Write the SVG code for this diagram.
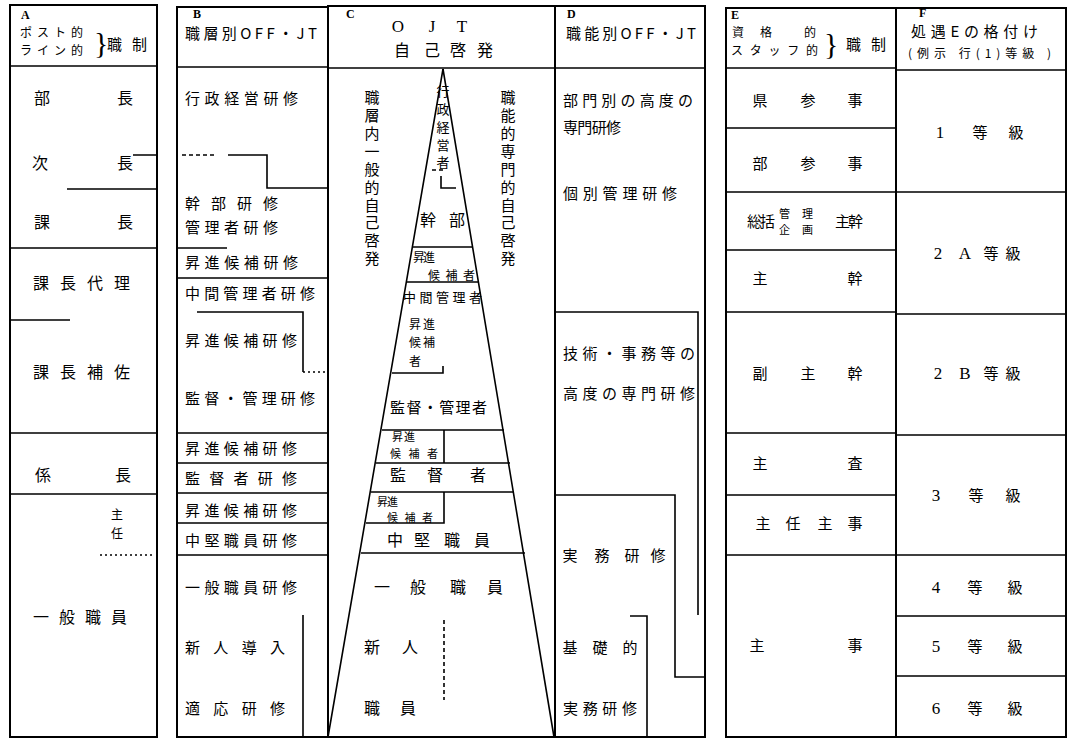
<svg xmlns="http://www.w3.org/2000/svg" width="1068" height="739" viewBox="0 0 1068 739">
<style>
.ln{stroke:#000;stroke-width:1.6;fill:none}
.bd{stroke:#000;stroke-width:2;fill:none}
.dash{stroke-dasharray:4 3}
.dot{stroke-dasharray:2 3}
text{font-family:"Noto Sans CJK JP","Noto Sans",sans-serif;font-size:15px;fill:#000}
.m{text-anchor:middle}
.v{writing-mode:vertical-rl}
.a{font-size:16px}
.sm{font-size:13px}
.hd{font-size:12px}
.xs{font-size:11px}
.lt{font-family:"Liberation Serif",serif;font-size:12px;font-weight:bold}
.ser{font-family:"Liberation Serif",serif;font-size:17px}
.br{font-family:"Liberation Serif",serif;font-size:30px}
</style>
<rect width="1068" height="739" fill="#fff"/>

<g id="colA">
<rect class="bd" x="10" y="5" width="147" height="732"/>
<line class="ln" x1="10" y1="66" x2="157" y2="66"/>
<text class="lt" x="21" y="19">A</text>
<text class="hd" x="20" y="37" textLength="63" lengthAdjust="spacing">ポスト的</text>
<text class="hd" x="20" y="55" textLength="63" lengthAdjust="spacing">ライン的</text>
<text class="br" x="94" y="53">}</text>
<text x="107" y="50" textLength="40" lengthAdjust="spacing">職制</text>
<text class="a m" x="42" y="104">部</text><text class="a m" x="125" y="104">長</text>
<text class="a m" x="40" y="169">次</text><text class="a m" x="125" y="169">長</text>
<text class="a m" x="42" y="228">課</text><text class="a m" x="125" y="228">長</text>
<text class="a" x="33" y="289" textLength="97" lengthAdjust="spacing">課長代理</text>
<text class="a" x="33" y="378" textLength="97" lengthAdjust="spacing">課長補佐</text>
<text class="a m" x="43" y="481">係</text><text class="a m" x="123" y="481">長</text>
<text class="hd v" x="117" y="508" textLength="31" lengthAdjust="spacing">主任</text>
<text class="a" x="33" y="623" textLength="94" lengthAdjust="spacing">一般職員</text>
</g>

<g id="colB">
<rect class="bd" x="177" y="7" width="151" height="730"/>
<line class="ln" x1="177" y1="67" x2="328" y2="67"/>
<text class="lt" x="193" y="18">B</text>
<text x="185" y="39" textLength="132" lengthAdjust="spacing">職層別OFF・JT</text>
<text x="185" y="103.5" textLength="113" lengthAdjust="spacing">行政経営研修</text>
<text x="185" y="208.5" textLength="93" lengthAdjust="spacing">幹部研修</text>
<text x="185" y="232.5" textLength="93" lengthAdjust="spacing">管理者研修</text>
<text x="185" y="267.5" textLength="113" lengthAdjust="spacing">昇進候補研修</text>
<text x="185" y="298.5" textLength="130" lengthAdjust="spacing">中間管理者研修</text>
<text x="185" y="345.5" textLength="112" lengthAdjust="spacing">昇進候補研修</text>
<text x="185" y="403.5" textLength="130" lengthAdjust="spacing">監督・管理研修</text>
<text x="185" y="453.5" textLength="112" lengthAdjust="spacing">昇進候補研修</text>
<text x="185" y="483.5" textLength="112" lengthAdjust="spacing">監督者研修</text>
<text x="185" y="515.5" textLength="112" lengthAdjust="spacing">昇進候補研修</text>
<text x="185" y="545.5" textLength="112" lengthAdjust="spacing">中堅職員研修</text>
<text x="185" y="592.5" textLength="112" lengthAdjust="spacing">一般職員研修</text>
<text x="185" y="652.5" textLength="100" lengthAdjust="spacing">新人導入</text>
<text x="185" y="713.5" textLength="100" lengthAdjust="spacing">適応研修</text>
</g>

<g id="colC">
<rect class="bd" x="328" y="6" width="227" height="731"/>
<line class="ln" x1="328" y1="68" x2="555" y2="68"/>
<text class="lt" x="346" y="18">C</text>
<text class="ser m" x="398" y="32">O</text><text class="ser m" x="432" y="32">J</text><text class="ser m" x="462" y="32">T</text>
<text class="a m" x="402" y="56">自</text><text class="a m" x="432" y="56">己</text><text class="a m" x="458" y="56">啓</text><text class="a m" x="485" y="56">発</text>
<text class="v" x="372" y="90" textLength="176" lengthAdjust="spacing">職層内一般的自己啓発</text>
<text class="v" x="508" y="90" textLength="176" lengthAdjust="spacing">職能的専門的自己啓発</text>
<text class="sm v" x="443" y="85" textLength="84" lengthAdjust="spacing">行政経営者</text>
<text class="a m" x="428" y="226">幹</text><text class="a m" x="457" y="226">部</text>
<text class="hd" x="413" y="262" textLength="22" lengthAdjust="spacing">昇進</text>
<text class="hd" x="428" y="280" textLength="47" lengthAdjust="spacing">候補者</text>
<text class="sm" x="403" y="302" textLength="79" lengthAdjust="spacing">中間管理者</text>
<text class="hd" x="409" y="329" textLength="26" lengthAdjust="spacing">昇進</text>
<text class="hd" x="409" y="347" textLength="26" lengthAdjust="spacing">候補</text>
<text class="hd" x="409" y="366">者</text>
<text x="390" y="412.5" textLength="97" lengthAdjust="spacing">監督・管理者</text>
<text class="xs" x="392" y="441" textLength="23" lengthAdjust="spacing">昇進</text>
<text class="xs" x="390" y="458" textLength="48" lengthAdjust="spacing">候補者</text>
<text class="a m" x="398" y="481">監</text><text class="a m" x="435" y="481">督</text><text class="a m" x="478" y="481">者</text>
<text class="xs" x="377" y="506" textLength="21" lengthAdjust="spacing">昇進</text>
<text class="xs" x="387" y="522" textLength="46" lengthAdjust="spacing">候補者</text>
<text class="a m" x="395" y="546">中</text><text class="a m" x="422" y="546">堅</text><text class="a m" x="452" y="546">職</text><text class="a m" x="482" y="546">員</text>
<text class="a m" x="382" y="593">一</text><text class="a m" x="418" y="593">般</text><text class="a m" x="458" y="593">職</text><text class="a m" x="495" y="593">員</text>
<text class="a m" x="372" y="653">新</text><text class="a m" x="410" y="653">人</text>
<text class="a m" x="372" y="714">職</text><text class="a m" x="408" y="714">員</text>
</g>

<g id="colD">
<rect class="bd" x="555" y="6" width="150" height="731"/>
<line class="ln" x1="555" y1="68" x2="705" y2="68"/>
<text class="lt" x="567" y="18">D</text>
<text x="566" y="39" textLength="130" lengthAdjust="spacing">職能別OFF・JT</text>
<text x="563" y="105.5" textLength="130" lengthAdjust="spacing">部門別の高度の</text>
<text x="563" y="132.5" textLength="58" lengthAdjust="spacing">専門研修</text>
<text x="563" y="198.5" textLength="114" lengthAdjust="spacing">個別管理研修</text>
<text x="563" y="358.5" textLength="132" lengthAdjust="spacing">技術・事務等の</text>
<text x="563" y="398.5" textLength="132" lengthAdjust="spacing">高度の専門研修</text>
<text class="m" x="570" y="560.5">実</text><text class="m" x="602" y="560.5">務</text><text class="m" x="632" y="560.5">研</text><text class="m" x="658" y="560.5">修</text>
<text class="m" x="570" y="652.5">基</text><text class="m" x="600" y="652.5">礎</text><text class="m" x="630" y="652.5">的</text>
<text x="563" y="713.5" textLength="74" lengthAdjust="spacing">実務研修</text>
</g>

<g id="colE">
<rect class="bd" x="726" y="8" width="170" height="729"/>
<line class="ln" x1="726" y1="68" x2="896" y2="68"/>
<text class="lt" x="731" y="19">E</text>
<text class="hd m" x="738" y="37">資</text><text class="hd m" x="766" y="37">格</text><text class="hd m" x="810" y="37">的</text>
<text class="hd" x="731" y="55" textLength="87" lengthAdjust="spacing">スタッフ的</text>
<text class="br" x="824" y="54">}</text>
<text x="846" y="50" textLength="40" lengthAdjust="spacing">職制</text>
<text class="m" x="760" y="105.5">県</text><text class="m" x="808" y="105.5">参</text><text class="m" x="855" y="105.5">事</text>
<text class="m" x="760" y="168.5">部</text><text class="m" x="808" y="168.5">参</text><text class="m" x="855" y="168.5">事</text>
<text x="747" y="226.5" textLength="28" lengthAdjust="spacing">総括</text>
<text class="xs" x="779" y="218" textLength="34" lengthAdjust="spacing">管理</text>
<text class="xs" x="779" y="234" textLength="34" lengthAdjust="spacing">企画</text>
<text x="835" y="226.5" textLength="28" lengthAdjust="spacing">主幹</text>
<text class="m" x="760" y="283.5">主</text><text class="m" x="855" y="283.5">幹</text>
<text class="m" x="760" y="378.5">副</text><text class="m" x="808" y="378.5">主</text><text class="m" x="855" y="378.5">幹</text>
<text class="m" x="760" y="468.5">主</text><text class="m" x="855" y="468.5">査</text>
<text class="m" x="763" y="528.5">主</text><text class="m" x="793" y="528.5">任</text><text class="m" x="825" y="528.5">主</text><text class="m" x="855" y="528.5">事</text>
<text class="m" x="757" y="650.5">主</text><text class="m" x="855" y="650.5">事</text>
</g>

<g id="colF">
<rect class="bd" x="896" y="8" width="170" height="729"/>
<line class="ln" x1="896" y1="70" x2="1066" y2="70"/>
<text class="lt" x="919" y="17">F</text>
<text x="911" y="37" textLength="127" lengthAdjust="spacing">処遇Eの格付け</text>
<text class="hd" x="908" y="58" textLength="143" lengthAdjust="spacing">(例示 行(1)等級 )</text>
<text class="ser m" x="940" y="138">1</text><text class="m" x="980" y="137.5">等</text><text class="m" x="1016" y="137.5">級</text>
<text class="ser m" x="938" y="259">2</text><text class="ser m" x="965" y="259">A</text><text class="m" x="991" y="258.5">等</text><text class="m" x="1013" y="258.5">級</text>
<text class="ser m" x="938" y="379">2</text><text class="ser m" x="965" y="379">B</text><text class="m" x="991" y="378.5">等</text><text class="m" x="1013" y="378.5">級</text>
<text class="ser m" x="936" y="501">3</text><text class="m" x="976" y="500.5">等</text><text class="m" x="1013" y="500.5">級</text>
<text class="ser m" x="936" y="593">4</text><text class="m" x="975" y="592.5">等</text><text class="m" x="1015" y="592.5">級</text>
<text class="ser m" x="936" y="652">5</text><text class="m" x="975" y="651.5">等</text><text class="m" x="1015" y="651.5">級</text>
<text class="ser m" x="936" y="714">6</text><text class="m" x="975" y="713.5">等</text><text class="m" x="1015" y="713.5">級</text>
</g>

<g id="connectors">
<path class="ln" d="M133 155H157M67 189H157M10 248H157M10 320H70M10 433H157M10 494H157"/>
<path class="ln dot" d="M100 555H153"/>
<path class="ln dash" d="M182 155H215"/>
<path class="ln" d="M228 155H267V188H328"/>
<path class="ln" d="M177 248H227M177 278H328"/>
<path class="ln" d="M197 312H303V372"/>
<path class="ln dot" d="M303 372H325"/>
<path class="ln" d="M177 433H328M177 463H328M177 493H328M177 523H328M177 555H328M303 615V737"/>
<path class="ln" d="M443 69L328 737M443 69L554 737"/>
<path class="ln dash" d="M432 170H445"/>
<path class="ln" d="M441 176V188H456"/>
<path class="ln" d="M413 247H473M407 282H479M392 373H443V366M382 430H504M444 430V463M376 463H510M371 492H514M444 492V523H366M361 553H525"/>
<path class="ln dash" d="M444 620V700"/>
<path class="ln" d="M555 312H698V615M555 495H675V677H705M630 616H647V737"/>
<path class="ln" d="M726 128H896M726 192H896M726 250H896M726 312H896M726 433H896M726 495H896M726 555H896"/>
<path class="ln" d="M896 192H1066M896 314H1066M896 435H1066M896 555H1066M896 616H1066M896 676H1066"/>
</g>
</svg>
